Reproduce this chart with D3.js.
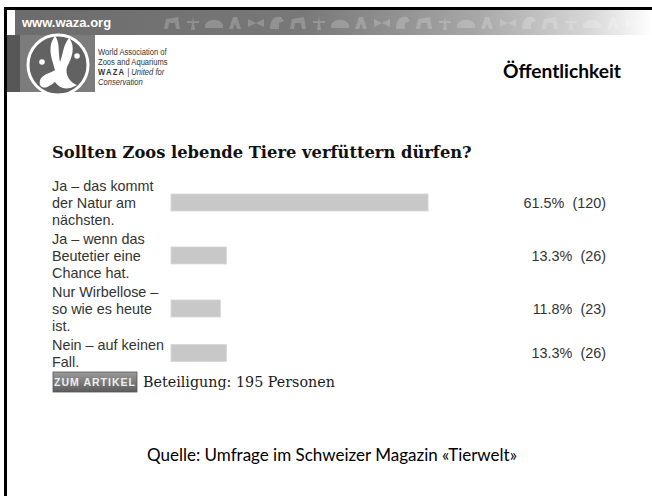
<!DOCTYPE html>
<html>
<head>
<meta charset="utf-8">
<script src="https://cdn.jsdelivr.net/npm/d3@7"></script>
<style>
  body { margin: 0; background: #fff; }
  svg { display: block; }
  .lbl { font-family: "Liberation Sans", Arial, sans-serif; font-size: 14.4px; fill: #333; }
  .val { font-family: "Liberation Sans", Arial, sans-serif; font-size: 14.4px; fill: #333; white-space: pre; }
</style>
</head>
<body>
<div id="chart"></div>
<script>
// poll data
var answers = [
    ["Ja \u2013 das kommt", "der Natur am", "n\u00e4chsten."],
    ["Ja \u2013 wenn das", "Beutetier eine", "Chance hat."],
    ["Nur Wirbellose \u2013", "so wie es heute", "ist."],
    ["Nein \u2013 auf keinen", "Fall."]
];
var percents = [61.5, 13.3, 11.8, 13.3];
var votes = [120, 26, 23, 26];
var participants = 195;

var question = "Sollten Zoos lebende Tiere verf\u00fcttern d\u00fcrfen?";
var pageTitle = "\u00d6ffentlichkeit";
var source = "Quelle: Umfrage im Schweizer Magazin \u00abTierwelt\u00bb";

// scale the font so the text gets the wanted width
function fitText(sel, w) {
    var fs = parseFloat(sel.attr("font-size"));
    var len = sel.node().getComputedTextLength();
    sel.attr("font-size", fs * w / len);
}

function init() {

    var width = 652;
    var height = 496;

    var svg = d3.select("#chart")
        .append("svg")
        .attr("width", width)
        .attr("height", height);

    var defs = svg.append("defs");

    // header strip gradient
    var hg = defs.append("linearGradient").attr("id", "strip");
    hg.append("stop").attr("offset", "0%").attr("stop-color", "#6c6c6c");
    hg.append("stop").attr("offset", "45%").attr("stop-color", "#787878");
    hg.append("stop").attr("offset", "72%").attr("stop-color", "#a6a6a6");
    hg.append("stop").attr("offset", "90%").attr("stop-color", "#d6d6d6");
    hg.append("stop").attr("offset", "100%").attr("stop-color", "#ffffff");

    // button gradient
    var bg = defs.append("linearGradient").attr("id", "btn")
        .attr("x1", 0).attr("y1", 0).attr("x2", 0).attr("y2", 1);
    bg.append("stop").attr("offset", "0%").attr("stop-color", "#9a9a9a");
    bg.append("stop").attr("offset", "100%").attr("stop-color", "#5c5c5c");

    // slide frame (top + left edges)
    svg.append("rect").attr("x", 4).attr("y", 7).attr("width", width - 4).attr("height", 3).attr("fill", "#000");
    svg.append("rect").attr("x", 4).attr("y", 7).attr("width", 3).attr("height", height - 7).attr("fill", "#000");

    // header strip
    svg.append("rect").attr("x", 15).attr("y", 10).attr("width", width - 15).attr("height", 25)
        .attr("fill", "url(#strip)");

    // animal silhouettes (rough decoration)
    var sil = svg.append("g").attr("fill", "#ffffff").attr("opacity", 0.2);
    var shapes = [
        "M-8,6 L-6,-4 L6,-6 L8,6 L4,6 L3,0 L-3,0 L-4,6 Z",
        "M-2,7 L0,-7 L2,7 Z M-6,-2 L6,-2 L6,0 L-6,0 Z",
        "M-9,2 C-6,-5 6,-5 9,2 L9,5 L-9,5 Z",
        "M-6,6 L-2,-6 L2,-6 L6,6 L2,6 L0,0 L-2,6 Z",
        "M-8,-4 L8,4 L8,-4 L-8,4 Z",
        "M-7,6 C-7,-4 -2,-7 4,-6 L7,-2 L2,0 L2,6 Z"
    ];
    d3.range(172, 645, 21).forEach(function (x, i) {
        sil.append("path")
            .attr("transform", "translate(" + x + ",23)")
            .attr("d", shapes[i % shapes.length]);
    });

    // logo block
    svg.append("rect").attr("x", 15).attr("y", 35).attr("width", 80).attr("height", 57).attr("fill", "#7c7c7c");
    svg.append("rect").attr("x", 7).attr("y", 35).attr("width", 13).attr("height", 57).attr("fill", "#575757");

    svg.append("text")
        .attr("x", 22).attr("y", 27)
        .attr("font-family", "Liberation Sans, Arial, sans-serif")
        .attr("font-weight", "bold")
        .attr("font-size", 13)
        .attr("fill", "#fff")
        .text("www.waza.org");

    // logo
    var logo = svg.append("g").attr("transform", "translate(58,65)");
    logo.append("circle").attr("r", 30).attr("fill", "#626262").attr("stroke", "#fff").attr("stroke-width", 3);
    logo.append("path")
        .attr("d", "M-3,-29 C-12,-17 -5,-4 -3,5 C-9,9 -20,10 -18,20 C-14,26 -7,20 -3,17 C2,24 9,26 19,20 C11,17 7,9 9,2 C14,-7 18,-19 11,-27 C5,-20 5,-10 2,-3 C0,-12 2,-24 -3,-29 Z")
        .attr("fill", "#fff");
    logo.append("circle").attr("cx", -16).attr("cy", -3).attr("r", 2.8).attr("fill", "#fff");
    logo.append("circle").attr("cx", 19).attr("cy", -9).attr("r", 2.8).attr("fill", "#fff");

    var org = svg.append("g").attr("transform", "translate(98,0) scale(0.8,1)")
        .append("text")
        .attr("font-family", "Liberation Sans, Arial, sans-serif")
        .attr("font-size", 9.5)
        .attr("fill", "#333");
    org.append("tspan").attr("x", 0).attr("y", 55).text("World Association of");
    org.append("tspan").attr("x", 0).attr("y", 65).text("Zoos and Aquariums");
    org.append("tspan").attr("x", 0).attr("y", 75).attr("font-weight", "bold").attr("letter-spacing", 1.5).text("WAZA");
    org.append("tspan").attr("font-style", "italic").text(" | United for");
    org.append("tspan").attr("x", 0).attr("y", 85).attr("font-style", "italic").text("Conservation");

    svg.append("text")
        .attr("x", 621).attr("y", 78)
        .attr("text-anchor", "end")
        .attr("font-family", "Lato, 'Open Sans', sans-serif")
        .attr("font-weight", "bold")
        .attr("font-size", 19)
        .attr("fill", "#000")
        .text(pageTitle)
        .call(fitText, 118);

    // question
    svg.append("text")
        .attr("x", 52).attr("y", 158)
        .attr("font-family", "DejaVu Serif, Georgia, serif")
        .attr("font-weight", "bold")
        .attr("font-size", 16)
        .attr("fill", "#111")
        .text(question)
        .call(fitText, 420);

    // row layout: each row as tall as its label
    var lineH = 17;
    var rowPad = 2;
    var top0 = 176;
    var rowH = answers.map(function (a) { return a.length * lineH + rowPad; });
    var rowTop = rowH.map(function (h, i) { return top0 + d3.sum(rowH.slice(0, i)); });
    var rowMid = rowTop.map(function (t, i) { return t + rowH[i] / 2; });

    var x = d3.scaleLinear().domain([0, 100]).range([171, 171 + 418]);
    var barH = 17;

    var rows = svg.selectAll(".row")
        .data(answers)
        .enter()
        .append("g")
        .attr("class", "row");

    rows.each(function (d, i) {
        var g = d3.select(this);
        var n = d.length;
        g.selectAll("text.lbl")
            .data(d)
            .enter()
            .append("text")
            .attr("class", "lbl")
            .attr("x", 52)
            .attr("y", function (s, j) { return rowMid[i] + (j - (n - 1) / 2) * lineH; })
            .attr("dy", "0.36em")
            .text(function (s) { return s; });
    });

    rows.append("rect")
        .attr("x", x(0))
        .attr("y", function (d, i) { return rowMid[i] - barH / 2; })
        .attr("width", function (d, i) { return x(percents[i]) - x(0); })
        .attr("height", barH)
        .attr("fill", "#c8c8c8")
        .attr("stroke", "#d6d6d6")
        .attr("stroke-width", 0.8);

    rows.append("text")
        .attr("class", "val")
        .attr("x", 606)
        .attr("y", function (d, i) { return rowMid[i]; })
        .attr("dy", "0.36em")
        .attr("text-anchor", "end")
        .text(function (d, i) { return percents[i].toFixed(1) + "%  (" + votes[i] + ")"; });

    // footer of poll
    var fy = rowTop[rowTop.length - 1] + rowH[rowH.length - 1] + 1;
    svg.append("rect")
        .attr("x", 53).attr("y", fy)
        .attr("width", 84).attr("height", 20)
        .attr("fill", "url(#btn)")
        .attr("stroke", "#555").attr("stroke-width", 0.8);
    svg.append("text")
        .attr("x", 95).attr("y", fy + 14)
        .attr("text-anchor", "middle")
        .attr("font-family", "Liberation Sans, Arial, sans-serif")
        .attr("font-weight", "bold")
        .attr("font-size", 10.5)
        .attr("letter-spacing", 1)
        .attr("fill", "#eeeeee")
        .text("ZUM ARTIKEL");

    svg.append("text")
        .attr("x", 143).attr("y", fy + 15)
        .attr("font-family", "DejaVu Serif, Georgia, serif")
        .attr("font-size", 15)
        .attr("fill", "#1a1a1a")
        .text("Beteiligung: " + participants + " Personen")
        .call(fitText, 192);

    // source line
    svg.append("text")
        .attr("x", 332).attr("y", 461)
        .attr("text-anchor", "middle")
        .attr("font-family", "Lato, 'Open Sans', sans-serif")
        .attr("font-size", 15)
        .attr("fill", "#000")
        .text(source)
        .call(fitText, 370);
}

window.onload = init;
</script>
</body>
</html>
